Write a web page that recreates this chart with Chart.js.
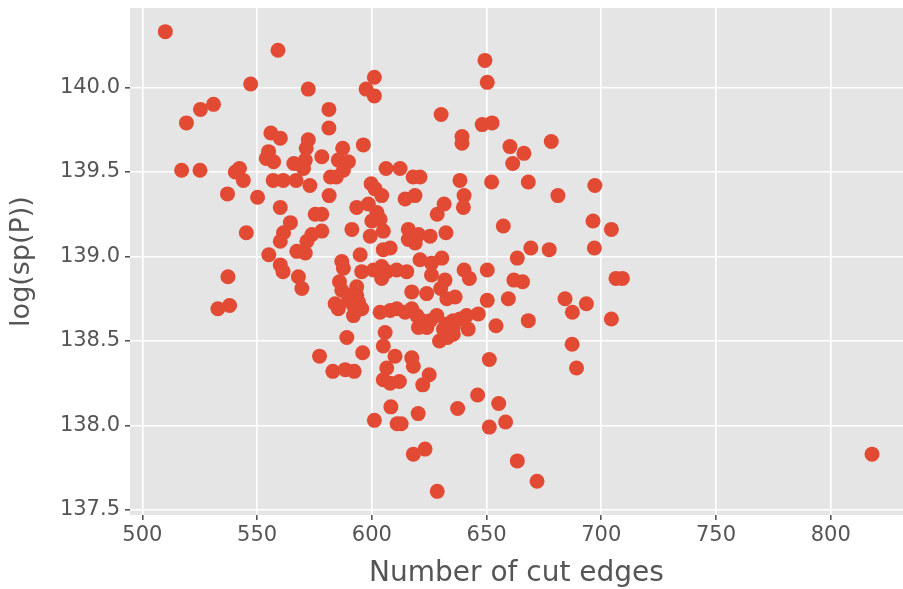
<!DOCTYPE html>
<html>
<head>
<meta charset="utf-8">
<script src="https://cdn.jsdelivr.net/npm/chart.js@4"></script>
<style>
  html, body { margin: 0; padding: 0; background: #fff; }
  #wrap { width: 903px; height: 589px; }
</style>
</head>
<body>
<div id="wrap"><canvas id="cutChart" width="903" height="589"></canvas></div>
<script>
// number of cut edges (x) and log(sp(P)) (y)
const cutEdges = [
  510, 559.1, 547.2, 531, 525.3, 519.2, 556, 560.1, 555, 554, 557.2, 566, 517.1, 525.1, 540.5, 542.3,
  544, 557, 561.4, 537.1, 550.2, 560.1, 564.5, 561.5, 560.1, 545.3, 555.1, 560.1, 561.3, 537.3, 532.9, 538,
  601.1, 597.5, 601.1, 572.3, 581.3, 581.3, 630.2, 572.3, 571.4, 596.3, 587.3, 578.2, 571, 570.2,
  585.4, 589.8, 587.6, 606.2, 612.3, 618, 621, 582, 584.5, 567, 573, 599.7,
  649.3, 650.3, 648.1, 652.4, 639.3, 639.3, 660.2, 666.3, 678.2, 661.4, 638.4, 652.2, 668.2, 681.1,
  640.2, 639.9, 631.5, 628.5, 657.3, 696.4, 632.3, 669.3, 677.3, 663.4, 697, 630.5, 640.2, 642.5,
  650.3, 661.9, 665.7, 631.9, 630, 636.3, 632.7, 650.3, 659.5, 684.2, 693.5, 687.4, 646.4, 641.3,
  638.4, 635.5, 632.6, 642, 635.5, 631.2, 654.1, 668.2, 687.3, 635.5, 629.5, 633,
  697.2, 704.4, 706.4, 709.2, 704.4,
  651.2, 689.2, 646.1, 637.4, 655.3, 658.3, 651.2, 663.4, 672, 628.5,
  577.2, 596, 583, 588.4, 592.3, 605, 610.1, 617.4, 618.1, 606.5, 605, 608, 612, 625, 622.2,
  608.3, 620.2, 601.1, 612.8, 611, 623.2, 618.1,
  581.4, 601.4, 604.3, 614.5, 618.8, 575.3, 578.2, 593.4, 598.5, 602.2, 603.6, 600, 605,
  591.3, 599.3, 615.9, 620.3, 625.4, 618.9, 615.9, 573.9, 571.7, 578.2, 567.3, 571, 605, 608,
  594.9, 586.9, 587.6, 595.6, 600.7, 604.3, 606.5, 610.8, 615.2, 604.3, 621, 626, 626, 568, 569.5,
  585.9, 586.9, 593.4, 593.4, 589.8, 617.4, 623.9, 584, 585.4, 589.8, 592, 594.2, 595.6, 592,
  603.6, 608, 610.9, 614.5, 617.4, 619.6, 621.8, 624, 620.3, 625.4, 628.3, 589.1, 605.8,
  818
];
const logSp = [
  140.33, 140.22, 140.02, 139.90, 139.87, 139.79, 139.73, 139.70, 139.62, 139.58, 139.56, 139.55, 139.51, 139.51, 139.50, 139.52,
  139.45, 139.45, 139.45, 139.37, 139.35, 139.29, 139.20, 139.14, 139.09, 139.14, 139.01, 138.95, 138.91, 138.88, 138.69, 138.71,
  140.06, 139.99, 139.95, 139.99, 139.87, 139.76, 139.84, 139.69, 139.64, 139.66, 139.64, 139.59, 139.57, 139.52,
  139.57, 139.56, 139.51, 139.52, 139.52, 139.47, 139.47, 139.47, 139.47, 139.45, 139.42, 139.43,
  140.16, 140.03, 139.78, 139.79, 139.71, 139.67, 139.65, 139.61, 139.68, 139.55, 139.45, 139.44, 139.44, 139.36,
  139.36, 139.29, 139.31, 139.25, 139.18, 139.21, 139.14, 139.05, 139.04, 138.99, 139.05, 138.99, 138.92, 138.87,
  138.92, 138.86, 138.85, 138.86, 138.81, 138.76, 138.75, 138.74, 138.75, 138.75, 138.72, 138.67, 138.66, 138.65,
  138.63, 138.62, 138.60, 138.57, 138.58, 138.57, 138.59, 138.62, 138.48, 138.54, 138.50, 138.52,
  139.42, 139.16, 138.87, 138.87, 138.63,
  138.39, 138.34, 138.18, 138.10, 138.13, 138.02, 137.99, 137.79, 137.67, 137.61,
  138.41, 138.43, 138.32, 138.33, 138.32, 138.47, 138.41, 138.40, 138.35, 138.34, 138.27, 138.25, 138.26, 138.30, 138.24,
  138.11, 138.07, 138.03, 138.01, 138.01, 137.86, 137.83,
  139.36, 139.40, 139.36, 139.34, 139.36, 139.25, 139.25, 139.29, 139.31, 139.26, 139.22, 139.21, 139.15,
  139.16, 139.12, 139.16, 139.13, 139.12, 139.08, 139.10, 139.13, 139.09, 139.15, 139.03, 139.02, 139.04, 139.05,
  139.01, 138.97, 138.93, 138.91, 138.92, 138.94, 138.91, 138.92, 138.91, 138.87, 138.98, 138.96, 138.89, 138.88, 138.81,
  138.85, 138.80, 138.82, 138.77, 138.77, 138.79, 138.78, 138.72, 138.69, 138.74, 138.71, 138.73, 138.69, 138.65,
  138.67, 138.68, 138.69, 138.67, 138.69, 138.65, 138.62, 138.58, 138.58, 138.62, 138.65, 138.52, 138.55,
  137.83
];

const xTicks = [500, 550, 600, 650, 700, 750, 800];
const yTicks = [137.5, 138.0, 138.5, 139.0, 139.5, 140.0];

const points = cutEdges.map((x, i) => ({ x: x, y: logSp[i] }));

// grey panel behind the plot, ggplot style
const panelBg = {
  id: 'panelBg',
  beforeDraw(chart) {
    const { ctx, chartArea } = chart;
    ctx.save();
    ctx.fillStyle = '#fff';
    ctx.fillRect(0, 0, chart.width, chart.height);
    ctx.fillStyle = '#E5E5E5';
    ctx.fillRect(chartArea.left, chartArea.top, chartArea.right - chartArea.left, chartArea.bottom - chartArea.top);
    ctx.restore();
  }
};

const font = 'DejaVu Sans';

new Chart(document.getElementById('cutChart').getContext('2d'), {
  type: 'scatter',
  data: {
    datasets: [{
      data: points,
      backgroundColor: '#E24A33',
      borderColor: '#E24A33',
      borderWidth: 0,
      pointRadius: 7.5,
      pointHoverRadius: 7.5
    }]
  },
  options: {
    responsive: false,
    animation: false,
    layout: { autoPadding: false, padding: { top: 8, right: 0, left: 0, bottom: 0 } },
    plugins: {
      legend: { display: false },
      tooltip: { enabled: false }
    },
    scales: {
      x: {
        type: 'linear',
        min: 494.6,
        max: 831.5,
        afterBuildTicks: (scale) => { scale.ticks = xTicks.map(v => ({ value: v })); },
        afterFit: (scale) => {
          scale.height = 74;
          scale.paddingLeft = 0;
          scale.paddingRight = 0;
        },
        grid: { color: '#fff', lineWidth: 1.6, tickColor: '#555', tickLength: 5, drawTicks: true },
        border: { display: false },
        ticks: { color: '#555', font: { family: font, size: 21 }, padding: 3, callback: v => String(v) },
        title: { display: true, text: 'Number of cut edges', color: '#555', font: { family: font, size: 28, lineHeight: 1.1 }, padding: { top: 0, bottom: 0 } }
      },
      y: {
        type: 'linear',
        min: 137.47,
        max: 140.47,
        afterBuildTicks: (scale) => { scale.ticks = yTicks.map(v => ({ value: v })); },
        afterFit: (scale) => {
          scale.width = 130;
          scale.paddingTop = 0;
          scale.paddingBottom = 0;
        },
        grid: { color: '#fff', lineWidth: 1.6, tickColor: '#555', tickLength: 5, drawTicks: true },
        border: { display: false },
        ticks: { color: '#555', font: { family: font, size: 21 }, padding: 5, callback: v => v.toFixed(1) },
        title: { display: true, text: 'log(sp(P))', color: '#555', font: { family: font, size: 27 }, padding: { top: 6, bottom: 0 } }
      }
    }
  },
  plugins: [panelBg]
});
</script>
</body>
</html>
